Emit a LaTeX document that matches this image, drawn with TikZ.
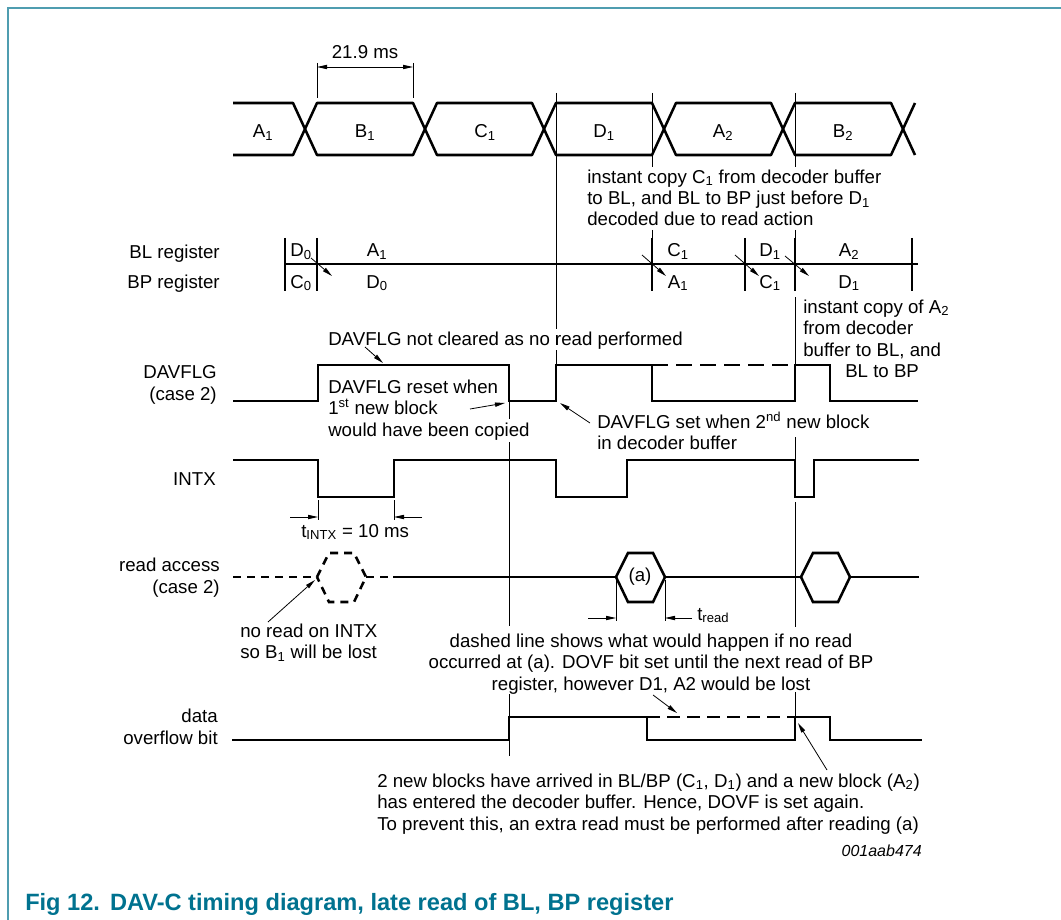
\documentclass[tikz,border=0pt]{standalone}
\usepackage{fontspec}
\setmainfont{Liberation Sans}
\usetikzlibrary{arrows.meta}
\definecolor{nxp_teal}{HTML}{00728F}
\definecolor{frame_teal}{HTML}{4F9DB0}

\begin{document}
\begin{tikzpicture}[x=0.75pt, y=-0.75pt,
    >={Triangle[length=7.5pt,width=3.2pt]},
    sig/.style={line width=1.9pt},
    bus/.style={line width=1.9pt, line join=round},
    guide/.style={line width=0.6pt},
    txt/.style={inner sep=0pt, font=\fontsize{14}{16.1}\selectfont}]

  \useasboundingbox (0,0) rectangle (1061,920);

  % Draw frame
  \draw[frame_teal, line width=1.1pt] (8,920) -- (8,8) -- (1061,8);

  % Draw blocks in the decoder buffer
  \draw[bus] (233,103) -- (293,103) -- (305,129) -- (293,155) -- (233,155);
  \draw[bus] (305,129) -- (317,103) -- (413,103) -- (425,129) -- (413,155) -- (317,155) -- cycle;
  \draw[bus] (425,129) -- (437,103) -- (532,103) -- (544,129) -- (532,155) -- (437,155) -- cycle;
  \draw[bus] (544,129) -- (556,103) -- (652,103) -- (664,129) -- (652,155) -- (556,155) -- cycle;
  \draw[bus] (664,129) -- (676,103) -- (771,103) -- (783,129) -- (771,155) -- (676,155) -- cycle;
  \draw[bus] (783,129) -- (795,103) -- (891,103) -- (903,129) -- (891,155) -- (795,155) -- cycle;
  \draw[bus] (915,103) -- (903,129) -- (915,155);

  \node[txt, anchor=base] (blk_a1) at (263,138) {A\textsubscript{1}};
  \node[txt, anchor=base] (blk_b1) at (365,138) {B\textsubscript{1}};
  \node[txt, anchor=base] (blk_c1) at (485,138) {C\textsubscript{1}};
  \node[txt, anchor=base] (blk_d1) at (604,138) {D\textsubscript{1}};
  \node[txt, anchor=base] (blk_a2) at (723,138) {A\textsubscript{2}};
  \node[txt, anchor=base] (blk_b2) at (843,138) {B\textsubscript{2}};

  % Block period
  \draw[guide] (317,63) -- (317,98);
  \draw[guide] (413,63) -- (413,98);
  \coordinate (per_l) at (317,67);
  \coordinate (per_r) at (413,67);
  \draw[guide, <->] (per_l) -- (per_r);
  \node[txt, anchor=base] (per) at (365,59) {21.9 ms};

  % Vertical marker lines
  \draw[guide] (556,93) -- (556,329) (556,335) -- (556,345) (556,350) -- (556,365);
  \draw[guide] (652,93) -- (652,167) (652,230) -- (652,238);
  \draw[guide] (795,93) -- (795,167) (795,230) -- (795,238) (795,297) -- (795,365)
    (795,437) -- (795,460) (795,502) -- (795,627) (795,692) -- (795,717);
  \draw[guide] (509,401) -- (509,419) (509,442) -- (509,626) (509,694) -- (509,717)
    (509,740) -- (509,756);

  % (base of a multi-line text is its last line)
  \node[txt, anchor=base west, align=left] (copy_c1) at (587,226)
    {instant copy C\textsubscript{1} from decoder buffer\\
     to BL, and BL to BP just before D\textsubscript{1}\\
     decoded due to read action};

  % BL and BP registers
  \node[txt, anchor=base east] (bl_lbl) at (220,258) {BL register};
  \node[txt, anchor=base east] (bp_lbl) at (220,289) {BP register};
  \draw[sig] (285,264) -- (918,264);
  \draw[sig] (285,238) -- (285,291);
  \draw[sig] (317,238) -- (317,291);
  \draw[sig] (652,238) -- (652,291);
  \draw[sig] (745,238) -- (745,291);
  \draw[sig] (795,238) -- (795,291);
  \draw[sig] (912,238) -- (912,291);

  \node[txt, anchor=base] (bl_d0) at (301,257) {D\textsubscript{0}};
  \node[txt, anchor=base] (bp_c0) at (301,288) {C\textsubscript{0}};
  \node[txt, anchor=base] (bl_a1) at (377,257) {A\textsubscript{1}};
  \node[txt, anchor=base] (bp_d0) at (377,288) {D\textsubscript{0}};
  \node[txt, anchor=base] (bl_c1) at (678,257) {C\textsubscript{1}};
  \node[txt, anchor=base] (bp_a1) at (678,288) {A\textsubscript{1}};
  \node[txt, anchor=base] (bl_d1) at (770,257) {D\textsubscript{1}};
  \node[txt, anchor=base] (bp_c1) at (770,288) {C\textsubscript{1}};
  \node[txt, anchor=base] (bl_a2) at (849,257) {A\textsubscript{2}};
  \node[txt, anchor=base] (bp_d1) at (849,288) {D\textsubscript{1}};

  \coordinate (cp1_s) at (311,258); \coordinate (cp1_e) at (332,276);
  \coordinate (cp2_s) at (642,255); \coordinate (cp2_e) at (666,276);
  \coordinate (cp3_s) at (735,255); \coordinate (cp3_e) at (759,276);
  \coordinate (cp4_s) at (785,256); \coordinate (cp4_e) at (809,276);
  \draw[guide, ->] (cp1_s) -- (cp1_e);
  \draw[guide, ->] (cp2_s) -- (cp2_e);
  \draw[guide, ->] (cp3_s) -- (cp3_e);
  \draw[guide, ->] (cp4_s) -- (cp4_e);

  \node[txt, anchor=base west, align=left] (copy_a2) at (803,377.5)
    {instant copy of A\textsubscript{2}\\
     from decoder\\
     buffer to BL, and\\
     \hspace*{31.5pt}BL to BP};

  % DAVFLG
  \node[txt, anchor=base east, align=right] (dav_lbl) at (217,400) {DAVFLG\\(case 2)};
  \draw[sig] (233,401) -- (318,401) -- (318,365) -- (509,365) -- (509,401) -- (556,401)
    -- (556,365) -- (652,365) -- (652,401) -- (795,401) -- (795,365) -- (830,365)
    -- (830,401) -- (918,401);
  \draw[sig, dash pattern=on 12pt off 6pt] (652,365) -- (795,365);

  \node[txt, anchor=base west] (dav_nc) at (328,345) {DAVFLG not cleared as no read performed};
  \coordinate (nc_s) at (365,347); \coordinate (nc_e) at (383,363);
  \draw[guide, ->] (nc_s) -- (nc_e);

  \node[txt, anchor=base west, align=left] (dav_rst) at (328,436)
    {DAVFLG reset when\\1\textsuperscript{st} new block\\would have been copied};
  \coordinate (rst_s) at (470,409); \coordinate (rst_e) at (505,403);
  \draw[guide, ->] (rst_s) -- (rst_e);

  \node[txt, anchor=base west, align=left] (dav_set) at (597,449.5)
    {DAVFLG set when 2\textsuperscript{nd} new block\\in decoder buffer};
  \coordinate (set_s) at (590,423); \coordinate (set_e) at (560,403);
  \draw[guide, ->] (set_s) -- (set_e);

  % INTX
  \node[txt, anchor=base east] (intx_lbl) at (216,485) {INTX};
  \draw[sig] (233,460) -- (318,460) -- (318,497) -- (394,497) -- (394,460) -- (556,460)
    -- (556,497) -- (627,497) -- (627,460) -- (795,460) -- (795,497) -- (814,497)
    -- (814,460) -- (919,460);

  \draw[guide] (318,500) -- (318,520);
  \draw[guide] (394,500) -- (394,520);
  \coordinate (ti_l) at (290,517); \coordinate (ti_a) at (318,517);
  \coordinate (ti_r) at (422,517); \coordinate (ti_b) at (394,517);
  \draw[guide, ->] (ti_l) -- (ti_a);
  \draw[guide, ->] (ti_r) -- (ti_b);
  \node[txt, anchor=base west] (tintx) at (301,537) {t\textsubscript{INTX} = 10 ms};

  % read access
  \node[txt, anchor=base east, align=right] (rd_lbl) at (220,593) {read access\\(case 2)};
  \draw[sig, dash pattern=on 6pt off 4.5pt] (233,577) -- (317,577);
  \draw[sig, dash pattern=on 6pt off 4.5pt] (317,577) -- (329,553) -- (354,553) -- (366,577)
    -- (354,602) -- (329,602) -- cycle;
  \draw[sig, dash pattern=on 6pt off 4.5pt] (366,577) -- (393,577);
  \draw[sig] (393,577) -- (616,577);
  \draw[sig] (616,577) -- (628,553) -- (653,553) -- (665,577) -- (653,602) -- (628,602) -- cycle;
  \draw[sig] (665,577) -- (801,577);
  \draw[sig] (801,577) -- (813,553) -- (838,553) -- (850,577) -- (838,602) -- (813,602) -- cycle;
  \draw[sig] (850,577) -- (919,577);
  \node[txt] (rd_a) at (640,577) {(a)};

  \draw[guide] (616,580) -- (616,621);
  \draw[guide] (665,580) -- (665,621);
  \coordinate (tr_l) at (588,618); \coordinate (tr_a) at (616,618);
  \coordinate (tr_r) at (692,618); \coordinate (tr_b) at (665,618);
  \draw[guide, ->] (tr_l) -- (tr_a);
  \draw[guide, ->] (tr_r) -- (tr_b);
  \node[txt, anchor=base west] (tread) at (697,620) {t\textsubscript{read}};

  \node[txt, anchor=base west, align=left] (no_rd) at (240,658.5)
    {no read on INTX\\so B\textsubscript{1} will be lost};
  \coordinate (nr_s) at (268,622); \coordinate (nr_e) at (315,580);
  \draw[guide, ->] (nr_s) -- (nr_e);

  \node[txt, anchor=base, align=center] (dash_note) at (651,690)
    {dashed line shows what would happen if no read\\
     occurred at (a). DOVF bit set until the next read of BP\\
     register, however D1, A2 would be lost};
  \coordinate (dn_s) at (653,695); \coordinate (dn_e) at (677,713);
  \draw[guide, ->] (dn_s) -- (dn_e);

  % data overflow bit
  \node[txt, anchor=base east, align=right] (ovf_lbl) at (218,744) {data\\overflow bit};
  \draw[sig] (232,740) -- (509,740) -- (509,717) -- (647,717) -- (647,740) -- (795,740)
    -- (795,717) -- (830,717) -- (830,740) -- (922,740);
  \draw[sig, dash pattern=on 10pt off 5pt] (647,717) -- (795,717);

  \node[txt, anchor=base west, align=left] (ovf_note) at (377,830)
    {2 new blocks have arrived in BL/BP (C\textsubscript{1}, D\textsubscript{1}) and a new block (A\textsubscript{2})\\
     has entered the decoder buffer. Hence, DOVF is set again.\\
     To prevent this, an extra read must be performed after reading (a)};
  \coordinate (on_s) at (827,770); \coordinate (on_e) at (798,723);
  \draw[guide, ->] (on_s) -- (on_e);

  % Figure code and caption
  \node[inner sep=0pt, anchor=base east, font=\fontsize{12}{14}\selectfont\itshape] (fig_id)
    at (922,856) {001aab474};
  \node[inner sep=0pt, anchor=base west, font=\fontsize{17.7}{20}\selectfont\bfseries,
    text=nxp_teal] (title) at (25,910)
    {Fig 12.\hspace{7.5pt}DAV-C timing diagram, late read of BL, BP register};

\end{tikzpicture}
\end{document}
